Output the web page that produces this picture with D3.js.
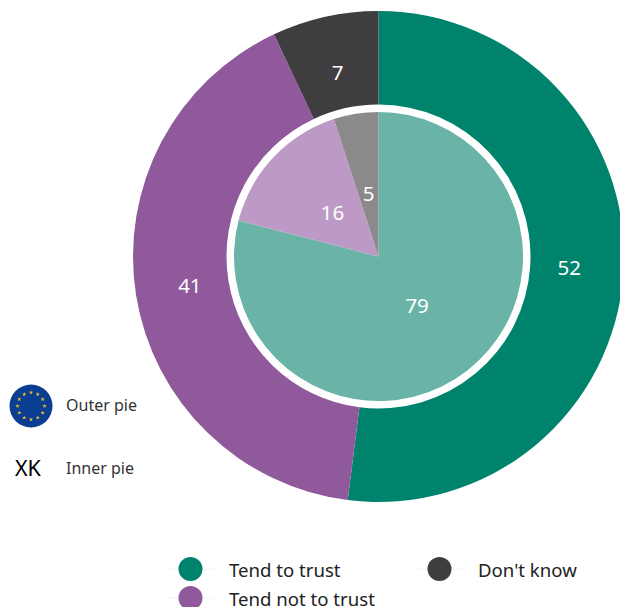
<!DOCTYPE html>
<html>
<head>
<meta charset="utf-8">
<script src="https://cdn.jsdelivr.net/npm/d3@7/dist/d3.min.js"></script>
<style>
  html, body { margin: 0; padding: 0; background: #fff; overflow: hidden; }
  text { font-family: "Noto Sans", "DejaVu Sans", sans-serif; }
</style>
</head>
<body>
<div id="chart"></div>
<script>
const categories = ["Tend to trust", "Tend not to trust", "Don't know"]
const outerValues = [52, 41, 7]
const innerValues = [79, 16, 5]
const outerColors = ["#00836c", "#90599b", "#403d41"]
const innerColors = ["#69b4a7", "#bd9ac5", "#8c898c"]
const pieLabels = ["Outer pie", "Inner pie"]

const width = 620
const height = 607
const cx = 378.5
const cy = 256.5

const svg = d3.select("#chart")
  .append("svg")
    .attr("width", width)
    .attr("height", height)
    .style("display", "block")

const pie = d3.pie().sort(null).value(d => d)

// outer ring
const outerArc = d3.arc().innerRadius(152).outerRadius(245.5)
const outerLabelRadius = [191, 191, 188]  // the 7 sits a bit closer in
const outer = svg.append("g").attr("transform", `translate(${cx},${cy})`)
outer.selectAll("path")
  .data(pie(outerValues))
  .join("path")
    .attr("d", outerArc)
    .attr("fill", (d, i) => outerColors[i])
outer.selectAll("text")
  .data(pie(outerValues))
  .join("text")
    .attr("transform", (d, i) => {
      const r = outerLabelRadius[i]
      return `translate(${d3.arc().innerRadius(r).outerRadius(r).centroid(d)})`
    })
    .attr("text-anchor", "middle")
    .attr("dy", "0.33em")
    .attr("fill", "#fff")
    .style("font-size", "20.5px")
    .text(d => d.data)

// inner pie
const innerArc = d3.arc().innerRadius(0).outerRadius(144.5)
const innerLabelArc = d3.arc().innerRadius(63).outerRadius(63)
const inner = svg.append("g").attr("transform", `translate(${cx},${cy})`)
inner.selectAll("path")
  .data(pie(innerValues))
  .join("path")
    .attr("d", innerArc)
    .attr("fill", (d, i) => innerColors[i])
inner.selectAll("text")
  .data(pie(innerValues))
  .join("text")
    .attr("transform", d => `translate(${innerLabelArc.centroid(d)})`)
    .attr("text-anchor", "middle")
    .attr("dy", "0.33em")
    .attr("fill", "#fff")
    .style("font-size", "20.5px")
    .text(d => d.data)

// EU flag
const flag = svg.append("g").attr("transform", "translate(31,406)")
flag.append("circle").attr("r", 21.5).attr("fill", "#0b3d91")
flag.selectAll("path")
  .data(d3.range(12))
  .join("path")
    .attr("d", d3.symbol(d3.symbolStar, 6))
    .attr("fill", "#e6bb35")
    .attr("transform", d => {
      const a = d * Math.PI / 6
      return `translate(${13.5 * Math.sin(a)},${-13.5 * Math.cos(a)})`
    })

svg.append("text")
    .attr("x", 15)
    .attr("y", 476)
    .attr("fill", "#000")
    .style("font-size", "21.5px")
    .text("XK")

svg.selectAll("text.pie-label")
  .data(pieLabels)
  .join("text")
    .attr("class", "pie-label")
    .attr("x", 66)
    .attr("y", (d, i) => i === 0 ? 411 : 474)
    .attr("fill", "#333")
    .style("font-size", "16px")
    .text(d => d)

// legend
const legendPos = [[190.5, 569], [190.5, 598], [439.5, 569]]
const legend = svg.selectAll("g.legend")
  .data(categories)
  .join("g")
    .attr("class", "legend")
    .attr("transform", (d, i) => `translate(${legendPos[i]})`)
legend.append("line")
    .attr("x1", -24).attr("x2", 24)
    .attr("stroke", "#f4f4f4")
legend.append("circle")
    .attr("r", 12)
    .attr("fill", (d, i) => outerColors[i])
legend.append("text")
    .attr("x", 38.5)
    .attr("y", 7.5)
    .attr("fill", "#222")
    .style("font-size", "18.6px")
    .text(d => d)
</script>
</body>
</html>
